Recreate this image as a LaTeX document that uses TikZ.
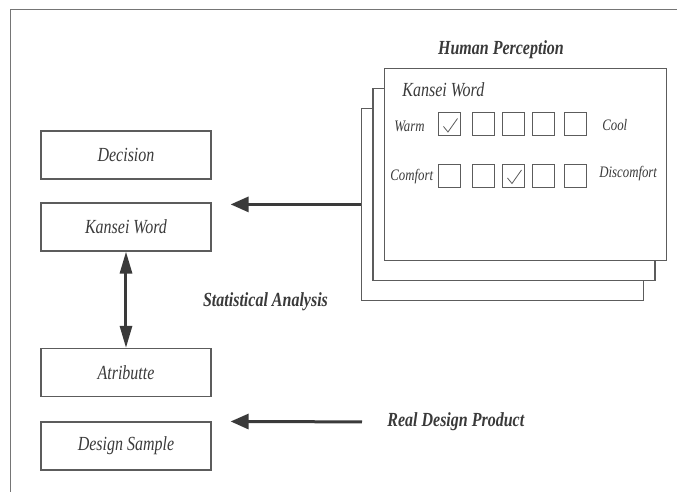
\documentclass[tikz,border=0pt]{standalone}
\usepackage{fontspec}
\setmainfont{Liberation Serif}[FakeStretch=0.8]
\usetikzlibrary{calc,arrows.meta}
\definecolor{ink}{HTML}{3A3A3A}
\definecolor{rule}{HTML}{5C5C5C}

\begin{document}
\begin{tikzpicture}[x=0.5pt, y=-0.5pt]
    % boxes of the left column
    \tikzstyle{blok}=[draw=rule, line width=0.6pt, minimum width=85pt, minimum height=24pt, inner sep=0, font=\itshape, text=ink]
    % sheets of the questionnaire
    \tikzstyle{lembar}=[draw=rule, fill=white, line width=0.6pt, minimum width=141pt, minimum height=96pt, inner sep=0]
    % check boxes
    \tikzstyle{cek}=[draw=rule, line width=0.5pt, minimum width=11pt, minimum height=11.5pt, inner sep=0]
    % texts
    \tikzstyle{lbl}=[inner sep=0, font=\itshape, text=ink]
    \tikzstyle{judul}=[inner sep=0, font=\bfseries\itshape, text=ink]
    \tikzstyle{kecil}=[inner sep=0, anchor=west, font=\footnotesize\itshape, text=ink]
    \tikzstyle{panah}=[draw=ink, line width=1.5pt, -{Triangle[length=9pt,width=7.5pt]}]
    \useasboundingbox (0,0) rectangle (677,492);
    \draw[rule!85, line width=0.5pt] (677,10) -- (11,10) -- (11,492);
    % left column
    \node[blok] (DEC) at (126,155) {Decision};
    \node[blok] (KW) at ($(DEC)+(0,72)$) {Kansei Word};
    \node[blok] (ATR) at ($(KW)+(0,145.5)$) {Atributte};
    \node[blok] (DS) at ($(ATR)+(0,73.5)$) {Design Sample};
    \draw[draw=ink, line width=1.5pt, {Triangle[length=11pt,width=6pt]}-{Triangle[length=11pt,width=6pt]}] (KW.south) -- (ATR.north);
    \node[judul] (SA) at (265.5,302) {Statistical Analysis};
    % stack of sheets
    \node[lembar] (BACK) at (502.5,204.5) {};
    \node[lembar] (MID) at ($(BACK)+(11.5,-20)$) {};
    \node[lembar] (FRONT) at ($(MID)+(11.5,-20)$) {};
    \node[judul] (HP) at (501,50) {Human Perception};
    \node[lbl, anchor=west] (KWL) at (402,90) {Kansei Word};
    \foreach \x [count=\i] in {449.5,483.5,513.5,544,575.5} {
        \node[cek] (W\i) at (\x,124.5) {};
        \node[cek] (C\i) at (\x,176) {};
    }
    \node[kecil] (WARM) at (394,126) {Warm};
    \node[kecil] (COOL) at (602,125) {Cool};
    \node[kecil] (COMF) at (390,177) {Comfort};
    \node[kecil] (DISC) at (599,174) {Discomfort};
    \draw[rule, line width=0.4pt] ($(W1)+(-6,2)$) -- ($(W1)+(-1.5,7.5)$) -- ($(W1)+(8,-6)$);
    \draw[rule, line width=0.4pt] ($(C3)+(-6,2)$) -- ($(C3)+(-1.5,7.5)$) -- ($(C3)+(8,-6)$);
    % arrows into the left column
    \coordinate (IN) at ($(KW.north east)+(0,2)$);
    \draw[panah, shorten >=9.5pt] (BACK.west |- IN) -- (IN);
    \node[judul, anchor=west] (RDP) at (387,422) {Real Design Product};
    \draw[panah, shorten <=12.5pt, shorten >=9.5pt] (RDP.west) -- (DS.north east);
\end{tikzpicture}
\end{document}
